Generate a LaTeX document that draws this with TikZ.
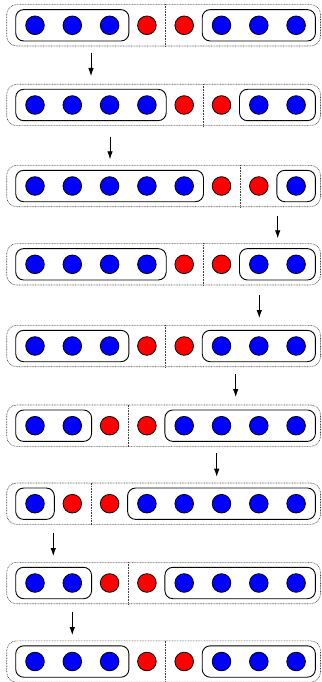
\documentclass[tikz,border=0pt]{standalone}
\usetikzlibrary{fit,calc,arrows.meta}

\tikzset{
  ball/.style={circle, minimum size=18.6pt, inner sep=0pt, draw=black, line width=0.8pt},
  blueball/.style={ball, fill=blue},
  redball/.style={ball, fill=red},
  groupbox/.style={draw=black, line width=0.9pt, rounded corners=8pt,
    inner xsep=9.6pt, inner ysep=6pt},
  outerbox/.style={draw=black!75, line width=0.6pt, dash pattern=on 0.8pt off 0.8pt,
    rounded corners=10pt, minimum width=313.8pt, minimum height=41.4pt, inner sep=0pt},
  divider/.style={draw=black!75, line width=0.6pt, dash pattern=on 0.8pt off 0.8pt},
  movearrow/.style={line width=0.8pt, -{Latex[length=8pt,width=5.5pt]}}
}

\begin{document}
\begin{tikzpicture}[x=1pt,y=-1pt]
  \useasboundingbox (0,0) rectangle (321,682);

  % one row per state: row number / position of the first red ball / vertical centre
  \foreach \r/\a/\y in {1/4/25.3, 2/5/105, 3/6/186, 4/5/264.3, 5/4/346,
                        6/3/425.7, 7/2/503.7, 8/3/583, 9/4/661.5}{
    \pgfmathtruncatemacro\b{\a+1}
    \pgfmathtruncatemacro\lb{\a-1}
    \pgfmathtruncatemacro\ra{\a+2}
    % dotted frame of the whole row
    \node[outerbox] (o\r) at (163.6,\y) {};
    % eight balls, the two at \a and \a+1 are red
    \foreach \k in {1,...,8}{
      \pgfmathtruncatemacro\isred{(\k==\a)||(\k==\b)}
      \ifnum\isred=1
        \node[redball] (r\r-\k) at ({35+37.3*(\k-1)},\y) {};
      \else
        \node[blueball] (r\r-\k) at ({35+37.3*(\k-1)},\y) {};
      \fi
    }
    % solid frames round the blue groups
    \node[groupbox, fit=(r\r-1)(r\r-\lb)] (gl\r) {};
    \node[groupbox, fit=(r\r-\ra)(r\r-8)] (gr\r) {};
    % dotted divider between the two red balls
    \coordinate (d\r) at ($(r\r-\a)!0.5!(r\r-\b)$);
    \draw[divider] (d\r |- o\r.north) -- (d\r |- o\r.south);
  }

  % arrows between consecutive rows
  \foreach \i/\x/\ya/\yb in {1/91/52.7/76, 2/110/136.7/159.3, 3/277.7/216/238.3,
                             4/259.3/295/318, 5/235.7/374/397, 6/216.7/453/476.7,
                             7/53.3/532.7/556, 8/72.3/611.7/635}{
    \coordinate (as\i) at (\x,\ya);
    \coordinate (ae\i) at (\x,\yb);
    \draw[movearrow] (as\i) -- (ae\i);
  }
\end{tikzpicture}
\end{document}
